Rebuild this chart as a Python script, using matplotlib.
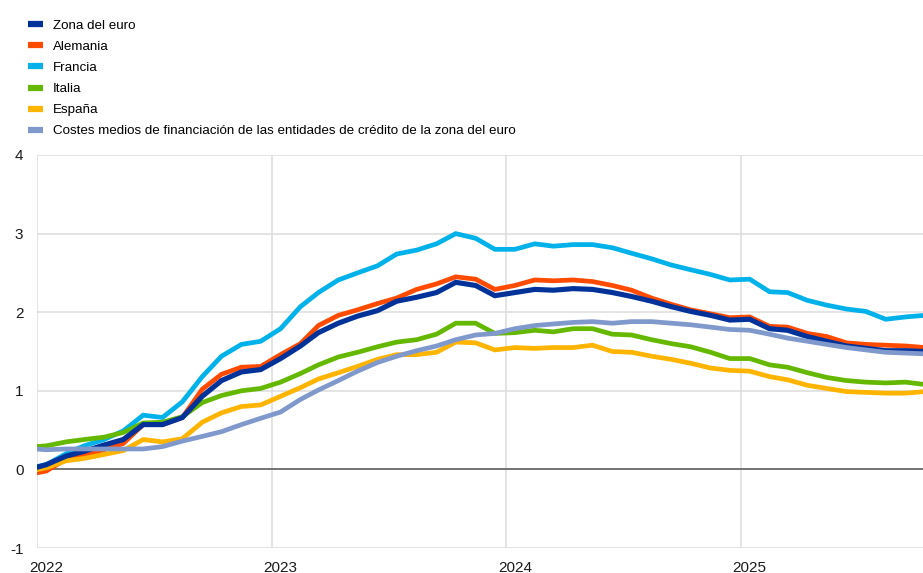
import matplotlib
matplotlib.use("Agg")
import matplotlib.pyplot as plt
import pandas as pd

plt.rcParams['font.family'] = ['Liberation Sans', 'DejaVu Sans']

# Monthly observations, Dec 2021 .. Oct 2025 (plotted mid-month)
months = pd.date_range('2021-12-01', '2025-10-01', freq='MS') + pd.Timedelta(days=14)

zona_euro = [-0.01, 0.06, 0.17, 0.23, 0.31, 0.38, 0.57, 0.57, 0.66, 0.93, 1.13, 1.24, 1.27,
             1.41, 1.57, 1.74, 1.86, 1.95, 2.02, 2.14, 2.19, 2.25, 2.38, 2.34, 2.21,
             2.25, 2.29, 2.28, 2.30, 2.29, 2.25, 2.20, 2.14, 2.07, 2.01, 1.96, 1.90,
             1.91, 1.79, 1.77, 1.69, 1.63, 1.57, 1.54, 1.51, 1.51, 1.50]
alemania = [-0.07, -0.02, 0.13, 0.18, 0.25, 0.33, 0.57, 0.57, 0.66, 1.02, 1.21, 1.30, 1.31,
            1.46, 1.60, 1.83, 1.96, 2.03, 2.11, 2.18, 2.29, 2.36, 2.45, 2.42, 2.29,
            2.34, 2.41, 2.40, 2.41, 2.39, 2.34, 2.28, 2.18, 2.10, 2.03, 1.98, 1.93,
            1.94, 1.82, 1.81, 1.73, 1.69, 1.61, 1.59, 1.58, 1.57, 1.55]
francia = [0.01, 0.06, 0.20, 0.30, 0.38, 0.49, 0.69, 0.66, 0.86, 1.18, 1.44, 1.59, 1.63,
           1.79, 2.07, 2.25, 2.41, 2.50, 2.59, 2.74, 2.79, 2.87, 3.00, 2.94, 2.80,
           2.80, 2.87, 2.84, 2.86, 2.86, 2.82, 2.75, 2.68, 2.60, 2.54, 2.48, 2.41,
           2.42, 2.26, 2.25, 2.15, 2.09, 2.04, 2.01, 1.91, 1.94, 1.96]
italia = [0.28, 0.30, 0.35, 0.38, 0.41, 0.47, 0.59, 0.60, 0.67, 0.85, 0.94, 1.00, 1.03,
          1.11, 1.22, 1.33, 1.43, 1.49, 1.56, 1.62, 1.65, 1.72, 1.86, 1.86, 1.73,
          1.74, 1.77, 1.75, 1.79, 1.79, 1.72, 1.71, 1.65, 1.60, 1.56, 1.49, 1.41,
          1.41, 1.33, 1.30, 1.23, 1.17, 1.13, 1.11, 1.10, 1.11, 1.08]
espana = [-0.03, 0.02, 0.11, 0.14, 0.19, 0.24, 0.38, 0.35, 0.39, 0.60, 0.72, 0.80, 0.82,
          0.93, 1.04, 1.15, 1.23, 1.31, 1.40, 1.46, 1.46, 1.49, 1.62, 1.61, 1.52,
          1.55, 1.54, 1.55, 1.55, 1.58, 1.50, 1.49, 1.44, 1.40, 1.35, 1.29, 1.26,
          1.25, 1.18, 1.14, 1.07, 1.03, 0.99, 0.98, 0.97, 0.97, 0.99]
costes = [0.27, 0.25, 0.26, 0.26, 0.26, 0.26, 0.26, 0.29, 0.36, 0.42, 0.48, 0.57, 0.65,
          0.73, 0.89, 1.01, 1.13, 1.25, 1.36, 1.44, 1.51, 1.57, 1.65, 1.71, 1.73,
          1.79, 1.83, 1.85, 1.87, 1.88, 1.86, 1.88, 1.88, 1.86, 1.84, 1.81, 1.78,
          1.77, 1.72, 1.67, 1.63, 1.59, 1.55, 1.52, 1.49, 1.48, 1.47]

labels = ["Zona del euro", "Alemania", "Francia", "Italia", "España",
          "Costes medios de financiación de las entidades de crédito de la zona del euro"]
colors = ["#003299", "#FF4B00", "#00B1EA", "#65B800", "#FFB400", "#8099CC"]
series = [zona_euro, alemania, francia, italia, espana, costes]
zorders = [6, 3, 2, 4, 5, 7]

year_ticks = ['2022', '2023', '2024', '2025']
y_ticks = [-1, 0, 1, 2, 3, 4]

W, H = 923, 573
fig = plt.figure(figsize=(W / 100, H / 100), dpi=100)
ax = fig.add_axes([37.3 / W, 1 - 548 / H, (923 - 37.3) / W, (548 - 155) / H])

for lab, col, s, z in zip(labels, colors, series, zorders):
    lw = 3.7 if lab == "Zona del euro" else 3.4
    ax.plot(months, s, color=col, lw=lw, label=lab, zorder=z,
            solid_joinstyle='miter', solid_capstyle='butt')

ax.set_ylim(-1, 4)
ax.set_yticks(y_ticks)
ax.set_yticklabels([str(v) for v in y_ticks])
xmin = pd.Timestamp('2022-01-01')
xmax = xmin + pd.Timedelta(days=1380)
ax.set_xlim(xmin, xmax)

# gridlines at year boundaries, labels centred on January observation
yt = [pd.Timestamp(f'{y}-01-01') for y in year_ticks]
ax.set_xticks(yt)
ax.set_xticklabels([''] * len(yt))
ax.set_xticks([t + pd.Timedelta(days=14) for t in yt], minor=True)
ax.set_xticklabels(year_ticks, minor=True)

ax.grid(True, which='major', color='#dddddd', lw=1.1, zorder=0)
ax.axhline(0, color='#555555', lw=1.1, zorder=1)
for sp in ax.spines.values():
    sp.set_visible(False)
ax.tick_params(axis='both', which='both', length=0, labelsize=11, colors='#1a1a1a')
ax.tick_params(axis='y', pad=10)
ax.tick_params(axis='x', which='minor', pad=9)
ax.set_axisbelow(True)

leg_handles = [plt.Line2D([0], [0], color=c, lw=4.5, solid_capstyle='butt') for c in colors]
fig.legend(leg_handles, labels, loc='upper left', bbox_to_anchor=(28 / W, 1 - 19.5 / H),
           frameon=False, fontsize=9.6, handlelength=1.125, handletextpad=0.73,
           labelspacing=0.66, borderpad=0, borderaxespad=0)

fig.savefig('out.png', dpi=100)
